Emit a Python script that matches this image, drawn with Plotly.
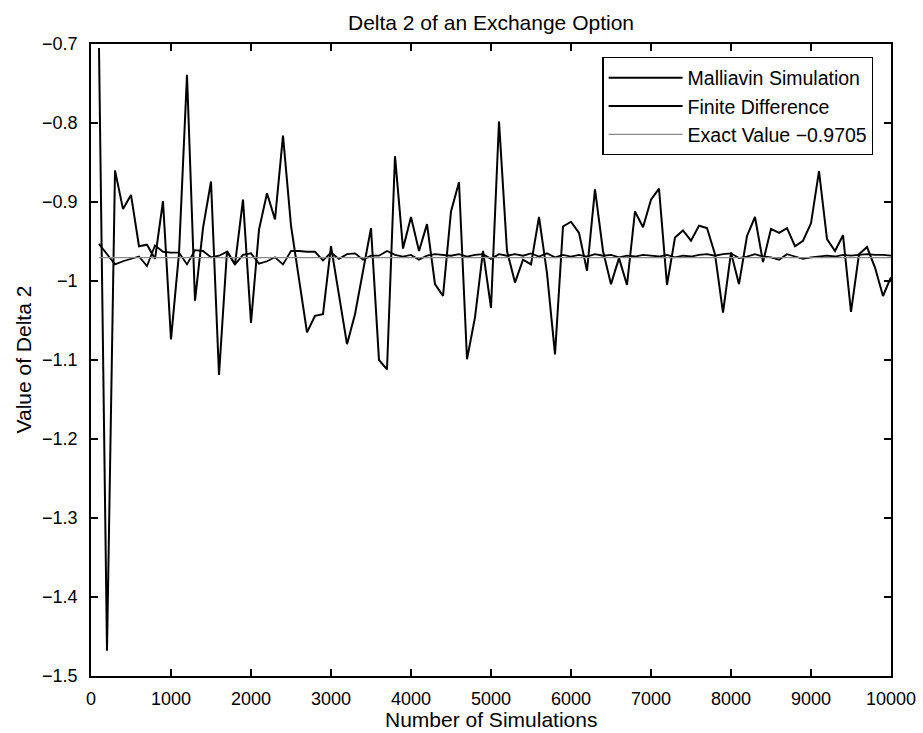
import plotly.graph_objects as go

# ---- data ----
n_sims = [100 * k for k in range(1, 101)]

malliavin = [
    -0.705, -1.468, -0.860, -0.909, -0.891, -0.956, -0.954, -0.972, -0.899, -1.074,
    -0.965, -0.739, -1.025, -0.933, -0.874, -1.119, -0.962, -0.979, -0.897, -1.053,
    -0.935, -0.889, -0.922, -0.816, -0.930, -1.000, -1.065, -1.044, -1.042, -0.956,
    -1.017, -1.080, -1.042, -0.987, -0.933, -1.100, -1.112, -0.842, -0.959, -0.919,
    -0.962, -0.928, -1.004, -1.019, -0.912, -0.875, -1.099, -1.046, -0.962, -1.034,
    -0.798, -0.962, -1.002, -0.973, -0.979, -0.919, -0.990, -1.093, -0.931, -0.925,
    -0.939, -0.987, -0.884, -0.962, -1.004, -0.971, -1.005, -0.912, -0.932, -0.897,
    -0.883, -1.005, -0.945, -0.936, -0.949, -0.930, -0.933, -0.966, -1.040, -0.964,
    -1.004, -0.943, -0.919, -0.976, -0.934, -0.939, -0.933, -0.956, -0.949, -0.927,
    -0.861, -0.947, -0.962, -0.942, -1.039, -0.966, -0.957, -0.983, -1.019, -0.995,
]

finite_diff = [
    -0.953, -0.966, -0.979, -0.975, -0.972, -0.969, -0.981, -0.955, -0.963, -0.964,
    -0.964, -0.979, -0.961, -0.962, -0.970, -0.968, -0.963, -0.979, -0.967, -0.965,
    -0.978, -0.975, -0.970, -0.979, -0.962, -0.962, -0.963, -0.963, -0.974, -0.964,
    -0.972, -0.966, -0.965, -0.973, -0.968, -0.968, -0.962, -0.967, -0.969, -0.967,
    -0.973, -0.968, -0.966, -0.967, -0.968, -0.966, -0.969, -0.967, -0.966, -0.972,
    -0.966, -0.968, -0.966, -0.968, -0.965, -0.969, -0.965, -0.970, -0.967, -0.969,
    -0.967, -0.969, -0.966, -0.968, -0.967, -0.970, -0.968, -0.969, -0.967, -0.968,
    -0.969, -0.967, -0.970, -0.968, -0.969, -0.967, -0.966, -0.968, -0.966, -0.965,
    -0.971, -0.969, -0.966, -0.969, -0.970, -0.973, -0.966, -0.969, -0.972, -0.970,
    -0.969, -0.968, -0.969, -0.967, -0.968, -0.967, -0.966, -0.967, -0.967, -0.968,
]

exact_value = -0.9705
exact = [exact_value] * len(n_sims)

x_tickvals = [0, 1000, 2000, 3000, 4000, 5000, 6000, 7000, 8000, 9000, 10000]
x_ticktext = ["0", "1000", "2000", "3000", "4000", "5000", "6000", "7000", "8000", "9000", "10000"]
y_tickvals = [-1.5, -1.4, -1.3, -1.2, -1.1, -1.0, -0.9, -0.8, -0.7]
y_ticktext = ["\u22121.5", "\u22121.4", "\u22121.3", "\u22121.2", "\u22121.1", "\u22121",
              "\u22120.9", "\u22120.8", "\u22120.7"]

FONT = "Liberation Sans, Helvetica, Arial, sans-serif"

fig = go.Figure()
fig.add_trace(go.Scatter(x=n_sims, y=malliavin, mode="lines", name="Malliavin Simulation",
                         line=dict(color="black", width=2)))
fig.add_trace(go.Scatter(x=n_sims, y=finite_diff, mode="lines", name="Finite Difference",
                         line=dict(color="black", width=1.8)))
fig.add_trace(go.Scatter(x=n_sims, y=exact, mode="lines", name="Exact Value \u22120.9705",
                         line=dict(color="#8a8a8a", width=1.2)))

axis_common = dict(
    showgrid=False, zeroline=False, showline=True, linecolor="black", linewidth=1.5,
    mirror="ticks", ticks="inside", ticklen=7, tickwidth=1.5, tickcolor="black",
    tickfont=dict(family=FONT, size=18, color="black"),
)

fig.update_layout(
    width=923, height=733,
    margin=dict(l=91, r=32, t=44, b=57),
    paper_bgcolor="white", plot_bgcolor="white",
    font=dict(family=FONT, color="black"),
    title=dict(text="Delta 2 of an Exchange Option", x=0.5, xref="paper",
               y=1 - 22.5 / 733, yref="container", yanchor="middle", xanchor="center",
               font=dict(family=FONT, size=21, color="black")),
    xaxis=dict(range=[0, 10000], tickvals=x_tickvals, ticktext=x_ticktext,
               ticklabelstandoff=6, **axis_common),
    yaxis=dict(range=[-1.5, -0.7], tickvals=y_tickvals, ticktext=y_ticktext,
               ticklabelstandoff=8, **axis_common),
    legend=dict(x=0.978, y=0.979, xanchor="right", yanchor="top",
                bordercolor="black", borderwidth=1.2, bgcolor="white",
                font=dict(family=FONT, size=19.5, color="black"),
                itemwidth=74, tracegroupgap=0),
    showlegend=True,
    annotations=[
        dict(text="Number of Simulations", x=0.5, y=-0.0696, xref="paper", yref="paper",
             xanchor="center", yanchor="middle", showarrow=False,
             font=dict(family=FONT, size=21, color="black")),
        dict(text="Value of Delta 2", x=(22.5 - 91) / 800, y=0.5, xref="paper", yref="paper",
             xanchor="center", yanchor="middle", showarrow=False, textangle=-90,
             font=dict(family=FONT, size=21, color="black")),
    ],
)
fig.update_xaxes(automargin=False)
fig.update_yaxes(automargin=False)

fig.write_html("out.html", config={"displayModeBar": False},
               post_script="document.body.style.margin='0';document.body.style.overflow='hidden';")
